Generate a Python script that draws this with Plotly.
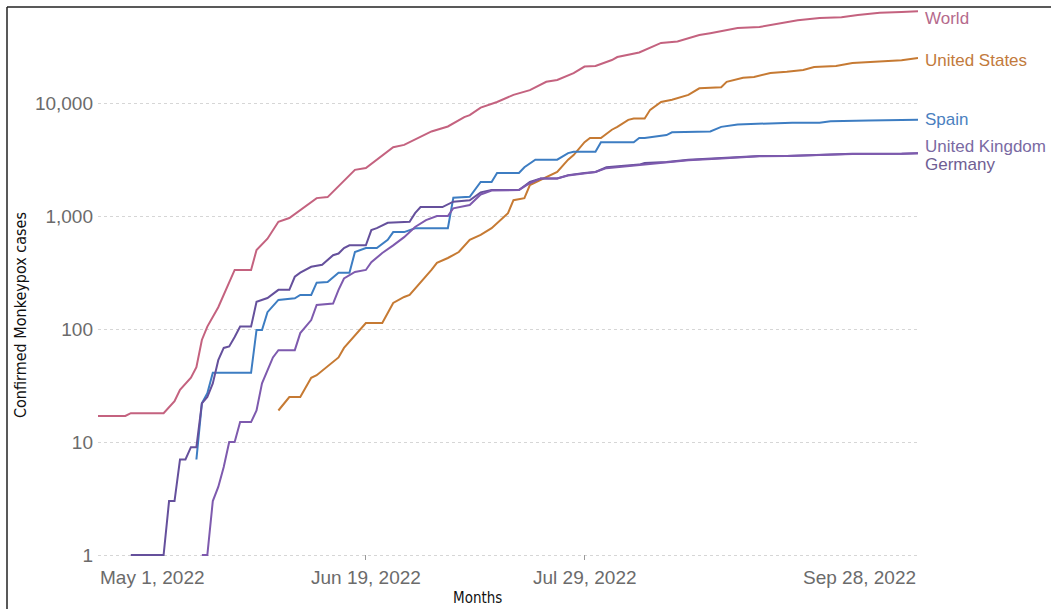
import math
import plotly.graph_objects as go

# Cumulative confirmed monkeypox cases, 2022
world_dates = ["2022-05-01", "2022-05-06", "2022-05-07", "2022-05-13", "2022-05-15", "2022-05-16",
               "2022-05-18", "2022-05-19", "2022-05-20", "2022-05-21", "2022-05-23", "2022-05-25",
               "2022-05-26", "2022-05-29", "2022-05-30", "2022-06-01", "2022-06-03", "2022-06-05",
               "2022-06-10", "2022-06-12", "2022-06-17", "2022-06-19", "2022-06-24", "2022-06-26",
               "2022-07-01", "2022-07-04", "2022-07-07", "2022-07-08", "2022-07-10", "2022-07-13",
               "2022-07-16", "2022-07-19", "2022-07-22", "2022-07-24", "2022-07-27", "2022-07-29",
               "2022-07-31", "2022-08-03", "2022-08-04", "2022-08-08", "2022-08-12", "2022-08-15",
               "2022-08-19", "2022-08-21", "2022-08-26", "2022-08-30", "2022-09-03", "2022-09-06",
               "2022-09-10", "2022-09-14", "2022-09-17", "2022-09-21", "2022-09-25", "2022-09-28"]
world_cases = [17, 17, 18, 18, 23, 29, 37, 46, 80, 105, 156, 257, 333, 333, 500, 630, 888, 960,
               1440, 1470, 2560, 2660, 4060, 4260, 5600, 6200, 7500, 7800, 9100, 10200, 11800,
               13000, 15400, 16000, 18400, 21000, 21300, 24000, 25500, 28000, 34000, 35000, 40000,
               41500, 46000, 47000, 51000, 54000, 56500, 57500, 60000, 63000, 64000, 65000]

us_dates = ["2022-06-03", "2022-06-05", "2022-06-07", "2022-06-09", "2022-06-10", "2022-06-14",
            "2022-06-15", "2022-06-18", "2022-06-19", "2022-06-22", "2022-06-24", "2022-06-26",
            "2022-06-27", "2022-07-01", "2022-07-02", "2022-07-04", "2022-07-06", "2022-07-08",
            "2022-07-10", "2022-07-12", "2022-07-15", "2022-07-16", "2022-07-18", "2022-07-19",
            "2022-07-22", "2022-07-24", "2022-07-26", "2022-07-27", "2022-07-29", "2022-07-30",
            "2022-08-01", "2022-08-03", "2022-08-04", "2022-08-06", "2022-08-07", "2022-08-09",
            "2022-08-10", "2022-08-12", "2022-08-14", "2022-08-17", "2022-08-19", "2022-08-23",
            "2022-08-24", "2022-08-27", "2022-08-29", "2022-09-01", "2022-09-04", "2022-09-07",
            "2022-09-09", "2022-09-13", "2022-09-16", "2022-09-21", "2022-09-25", "2022-09-28"]
us_cases = [19, 25, 25, 37, 39, 56, 68, 98, 113, 113, 170, 192, 200, 333, 385, 425, 480, 615,
            680, 780, 1060, 1380, 1440, 1880, 2220, 2460, 3150, 3460, 4500, 4900, 4900, 5800,
            6150, 7100, 7300, 7300, 8700, 10200, 10700, 11800, 13500, 13800, 15400, 16700, 17000,
            18400, 18900, 19600, 20800, 21300, 22600, 23400, 23900, 25000]

spain_dates = ["2022-05-19", "2022-05-20", "2022-05-21", "2022-05-22", "2022-05-29", "2022-05-30",
               "2022-05-31", "2022-06-01", "2022-06-03", "2022-06-06", "2022-06-07", "2022-06-09",
               "2022-06-10", "2022-06-12", "2022-06-14", "2022-06-16", "2022-06-17", "2022-06-19",
               "2022-06-21", "2022-06-23", "2022-06-24", "2022-06-26", "2022-06-28", "2022-07-04",
               "2022-07-05", "2022-07-08", "2022-07-10", "2022-07-12", "2022-07-13", "2022-07-17",
               "2022-07-18", "2022-07-20", "2022-07-24", "2022-07-26", "2022-07-27", "2022-07-31",
               "2022-08-01", "2022-08-07", "2022-08-08", "2022-08-09", "2022-08-13", "2022-08-14",
               "2022-08-21", "2022-08-23", "2022-08-26", "2022-09-01", "2022-09-05", "2022-09-10",
               "2022-09-12", "2022-09-19", "2022-09-28"]
spain_cases = [7, 22, 27, 41, 41, 98, 98, 141, 181, 187, 200, 200, 257, 260, 315, 315, 480, 520,
               520, 615, 720, 720, 780, 780, 1450, 1480, 2000, 2000, 2400, 2400, 2700, 3150, 3150,
               3600, 3700, 3700, 4500, 4500, 4900, 4900, 5200, 5500, 5600, 6150, 6450, 6600, 6700,
               6700, 6900, 7000, 7100]

uk_dates = ["2022-05-07", "2022-05-13", "2022-05-14", "2022-05-15", "2022-05-16", "2022-05-17",
            "2022-05-18", "2022-05-19", "2022-05-20", "2022-05-21", "2022-05-22", "2022-05-23",
            "2022-05-24", "2022-05-25", "2022-05-26", "2022-05-27", "2022-05-29", "2022-05-30",
            "2022-06-01", "2022-06-03", "2022-06-05", "2022-06-06", "2022-06-07", "2022-06-09",
            "2022-06-11", "2022-06-13", "2022-06-14", "2022-06-15", "2022-06-16", "2022-06-19",
            "2022-06-20", "2022-06-21", "2022-06-23", "2022-06-26", "2022-06-27", "2022-06-28",
            "2022-06-29", "2022-07-03", "2022-07-05", "2022-07-08", "2022-07-10", "2022-07-12",
            "2022-07-17", "2022-07-19", "2022-07-21", "2022-07-24", "2022-07-26", "2022-07-29",
            "2022-07-31", "2022-08-02", "2022-08-08", "2022-08-09", "2022-08-13", "2022-08-17",
            "2022-08-20", "2022-08-23", "2022-08-30", "2022-09-04", "2022-09-10", "2022-09-16",
            "2022-09-25", "2022-09-28"]
uk_cases = [1, 1, 3, 3, 7, 7, 9, 9, 22, 25, 33, 53, 68, 70, 85, 105, 105, 174, 188, 222, 222,
            290, 315, 355, 370, 450, 465, 520, 550, 550, 750, 780, 870, 890, 890, 1060, 1200,
            1200, 1340, 1380, 1620, 1700, 1700, 2000, 2150, 2150, 2300, 2400, 2450, 2700, 2850,
            2950, 3000, 3150, 3200, 3250, 3400, 3400, 3500, 3550, 3550, 3600]

germany_dates = ["2022-05-20", "2022-05-21", "2022-05-22", "2022-05-23", "2022-05-24", "2022-05-25",
                 "2022-05-26", "2022-05-27", "2022-05-29", "2022-05-30", "2022-05-31", "2022-06-02",
                 "2022-06-03", "2022-06-06", "2022-06-07", "2022-06-09", "2022-06-10", "2022-06-13",
                 "2022-06-14", "2022-06-15", "2022-06-17", "2022-06-19", "2022-06-20", "2022-06-22",
                 "2022-06-24", "2022-06-26", "2022-06-28", "2022-06-30", "2022-07-02", "2022-07-04",
                 "2022-07-05", "2022-07-08", "2022-07-10", "2022-07-12", "2022-07-17", "2022-07-19",
                 "2022-07-21", "2022-07-24", "2022-07-26", "2022-07-29", "2022-07-31", "2022-08-02",
                 "2022-08-08", "2022-08-13", "2022-08-17", "2022-08-23", "2022-08-30", "2022-09-04",
                 "2022-09-10", "2022-09-16", "2022-09-25", "2022-09-28"]
germany_cases = [1, 1, 3, 4, 6, 10, 10, 15, 15, 19, 33, 56, 65, 65, 92, 120, 163, 168, 222, 280,
                 320, 333, 390, 470, 550, 650, 800, 920, 1000, 1000, 1170, 1250, 1550, 1680, 1700,
                 1950, 2150, 2150, 2280, 2380, 2450, 2650, 2820, 2980, 3120, 3230, 3380, 3400,
                 3480, 3530, 3560, 3600]

tick_dates = ["2022-05-01", "2022-06-19", "2022-07-29", "2022-09-28"]
tick_text = ["May 1, 2022", "Jun 19, 2022", "Jul 29, 2022", "Sep 28, 2022"]
tick_anchor = ["left", "center", "center", "right"]

y_ticks = [1, 10, 100, 1000, 10000]
y_tick_text = ["1", "10", "100", "1,000", "10,000"]

# name, dates, values, line colour, label colour, label offset (px)
series = [
    ("World", world_dates, world_cases, "#c4627f", "#b56a8c", -7),
    ("United States", us_dates, us_cases, "#c67a33", "#c27a3c", -2),
    ("Spain", spain_dates, spain_cases, "#3d7dc2", "#4a7fbf", 0),
    ("United Kingdom", uk_dates, uk_cases, "#65509c", "#7a6aa3", 7),
    ("Germany", germany_dates, germany_cases, "#7e5aae", "#6f5e93", -11),
]

W, H = 1051, 609
L, R, T, B = 98, 133, 8, 49
PW, PH = W - L - R, H - T - B


def px_x(p):
    return (p - L) / PW


def px_y(p):
    return (H - B - p) / PH


fig = go.Figure()
for name, xs, ys, color, _, _ in series:
    fig.add_trace(go.Scatter(x=xs, y=ys, mode="lines", name=name,
                             line=dict(color=color, width=2)))

tick_font = dict(family="Liberation Sans, Arial, sans-serif", size=19, color="#6b6b6b")

for name, xs, ys, _, lcolor, dy in series:
    fig.add_annotation(x=1, xref="paper", y=math.log10(ys[-1]), yref="y",
                       xanchor="left", yanchor="middle", xshift=5, yshift=dy,
                       text=name, showarrow=False,
                       font=dict(family="Liberation Sans, Arial, sans-serif", size=17, color=lcolor))

for d, t, a in zip(tick_dates, tick_text, tick_anchor):
    fig.add_annotation(x=d, xref="x", y=px_y(577), yref="paper",
                       xanchor=a, yanchor="middle", text=t, showarrow=False,
                       font=tick_font)

fig.add_annotation(x=px_x(20), xref="paper", y=px_y(315), yref="paper",
                   text="Confirmed Monkeypox cases", textangle=-90, showarrow=False,
                   xanchor="center", yanchor="middle",
                   font=dict(family="Liberation Sans Narrow, DejaVu Sans Condensed, sans-serif",
                             size=16, color="#111111"))
fig.add_annotation(x=px_x(477), xref="paper", y=px_y(598), yref="paper",
                   text="Months", showarrow=False, xanchor="center", yanchor="middle",
                   font=dict(family="Liberation Sans Narrow, DejaVu Sans Condensed, sans-serif",
                             size=15, color="#111111"))

# frame along the top and left edges
fig.add_shape(type="line", xref="paper", yref="paper",
              x0=px_x(7), x1=px_x(W + 2), y0=px_y(7), y1=px_y(7),
              line=dict(color="#222222", width=1.5))
fig.add_shape(type="line", xref="paper", yref="paper",
              x0=px_x(7), x1=px_x(7), y0=px_y(7), y1=px_y(H + 2),
              line=dict(color="#222222", width=1.5))

fig.update_xaxes(type="date", range=["2022-05-01", "2022-09-28"],
                 tickvals=tick_dates, ticktext=tick_text, showticklabels=False,
                 ticks="inside", ticklen=5, tickcolor="#9a9a9a", tickwidth=1,
                 showgrid=False, zeroline=False, showline=False)
fig.update_yaxes(type="log", range=[-5 / 113, (H - B - T) / 113 - 5 / 113],
                 tickvals=y_ticks, ticktext=y_tick_text, tickfont=tick_font,
                 ticks="", ticklabelstandoff=4,
                 showgrid=True, gridcolor="#d6d6d6", griddash="dot", gridwidth=1,
                 zeroline=False, showline=False)

fig.update_layout(width=W, height=H, margin=dict(l=L, r=R, t=T, b=B),
                  paper_bgcolor="white", plot_bgcolor="white", showlegend=False)

fig.write_html("out.html")
